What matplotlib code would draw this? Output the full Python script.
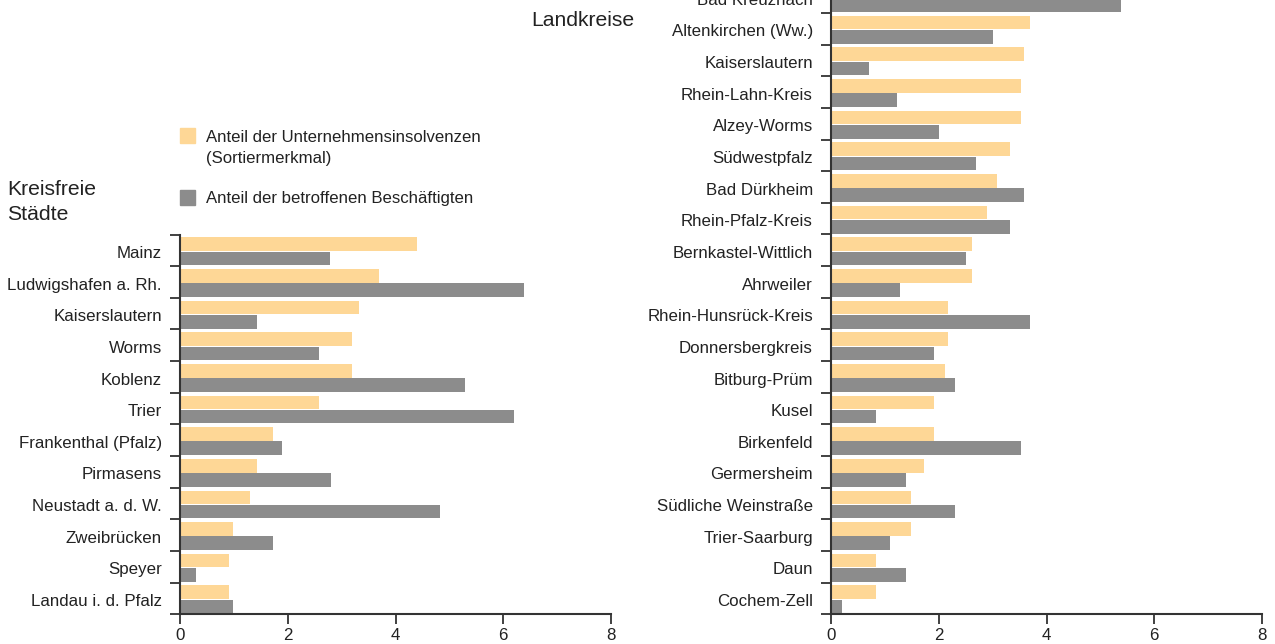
import matplotlib.pyplot as plt
import numpy as np
from matplotlib.patches import Rectangle

plt.rcParams['font.family'] = ['Liberation Sans', 'DejaVu Sans']

# Kreisfreie Staedte
staedte = ['Mainz', 'Ludwigshafen a. Rh.', 'Kaiserslautern', 'Worms', 'Koblenz', 'Trier',
           'Frankenthal (Pfalz)', 'Pirmasens', 'Neustadt a. d. W.', 'Zweibrücken', 'Speyer',
           'Landau i. d. Pfalz']
staedte_insol = [4.40, 3.69, 3.32, 3.19, 3.19, 2.58, 1.73, 1.43, 1.30, 0.98, 0.91, 0.91]
staedte_besch = [2.79, 6.39, 1.43, 2.58, 5.29, 6.20, 1.89, 2.80, 4.82, 1.73, 0.30, 0.98]

# Landkreise
kreise = ['Bad Kreuznach', 'Altenkirchen (Ww.)', 'Kaiserslautern', 'Rhein-Lahn-Kreis',
          'Alzey-Worms', 'Südwestpfalz', 'Bad Dürkheim', 'Rhein-Pfalz-Kreis',
          'Bernkastel-Wittlich', 'Ahrweiler', 'Rhein-Hunsrück-Kreis', 'Donnersbergkreis',
          'Bitburg-Prüm', 'Kusel', 'Birkenfeld', 'Germersheim', 'Südliche Weinstraße',
          'Trier-Saarburg', 'Daun', 'Cochem-Zell']
kreise_insol = [3.90, 3.70, 3.59, 3.52, 3.52, 3.32, 3.09, 2.89, 2.61, 2.61, 2.18, 2.18,
                2.11, 1.92, 1.92, 1.72, 1.48, 1.48, 0.83, 0.83]
kreise_besch = [5.39, 3.00, 0.70, 1.22, 2.00, 2.70, 3.59, 3.32, 2.50, 1.29, 3.70, 1.92,
                2.31, 0.83, 3.52, 1.40, 2.31, 1.09, 1.40, 0.20]

c_orange = '#fed796'
c_grau = '#8c8c8c'
c_text = '#222222'

W, H = 1275, 644
fig = plt.figure(figsize=(12.75, 6.44), dpi=100)

band = 31.65
bottom_px = 614.3


def panel(left_px, labels, insol, besch):
    n = len(labels)
    ax = fig.add_axes([left_px / W, (H - bottom_px) / H, 431 / W, n * band / H])
    y = np.arange(n)
    ax.barh(y - 0.195, insol, height=0.43, color=c_orange)
    ax.barh(y + 0.255, besch, height=0.43, color=c_grau)
    ax.set_xlim(0, 8)
    ax.set_ylim(n - 0.5, -0.5)
    ax.set_xticks([0, 2, 4, 6, 8])
    ax.set_yticks(np.arange(n + 1) - 0.5)
    ax.set_yticklabels([])
    ax.set_yticks(y + 0.05, labels, minor=True)
    ax.tick_params(axis='y', which='major', length=7, width=1.3, color='#333333')
    ax.tick_params(axis='y', which='minor', length=0, pad=13, labelsize=12.2, labelcolor=c_text)
    ax.tick_params(axis='x', length=7, width=1.3, color='#333333', labelsize=12.2,
                   labelcolor=c_text, pad=3)
    for s in ['top', 'right']:
        ax.spines[s].set_visible(False)
    for s in ['left', 'bottom']:
        ax.spines[s].set_linewidth(1.5)
        ax.spines[s].set_color('#333333')
    return ax


ax1 = panel(180, staedte, staedte_insol, staedte_besch)
ax2 = panel(831, kreise, kreise_insol, kreise_besch)

# Gruppentitel
fig.text(7 / W, 1 - 190 / H, 'Kreisfreie', fontsize=15.2, color=c_text,
         va='center', ha='left')
fig.text(7 / W, 1 - 215 / H, 'Städte', fontsize=15.2, color=c_text,
         va='center', ha='left')
fig.text(531 / W, 1 - 20 / H, 'Landkreise', fontsize=15.2, color=c_text,
         va='center', ha='left')

# Legende
for ypx, col in [(128, c_orange), (190, c_grau)]:
    fig.add_artist(Rectangle((180 / W, 1 - (ypx + 15) / H), 15 / W, 15 / H,
                             transform=fig.transFigure, color=col))
fig.text(206 / W, 1 - 137 / H, 'Anteil der Unternehmensinsolvenzen', fontsize=12.1,
         color=c_text, va='center')
fig.text(206 / W, 1 - 158 / H, '(Sortiermerkmal)', fontsize=12.1, color=c_text, va='center')
fig.text(206 / W, 1 - 198 / H, 'Anteil der betroffenen Beschäftigten', fontsize=12.1,
         color=c_text, va='center')

fig.savefig('out.png', dpi=100)
